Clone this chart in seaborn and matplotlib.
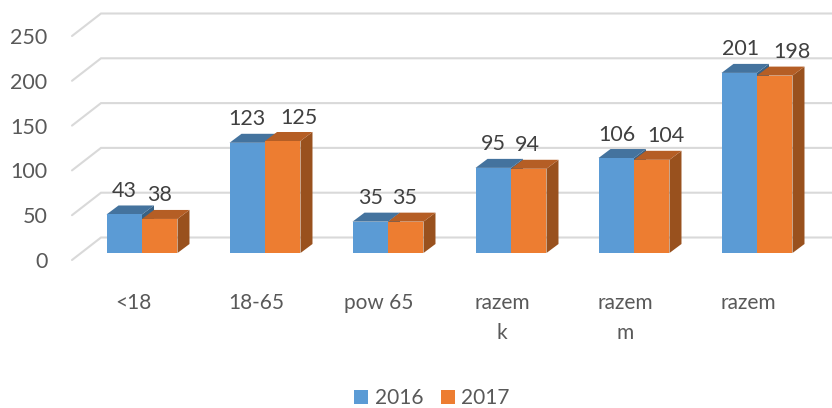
import pandas as pd
import matplotlib
matplotlib.use("Agg")
import matplotlib.pyplot as plt
from matplotlib.patches import Polygon
import seaborn as sns

categories = ["<18", "18-65", "pow 65", "razem\nk", "razem\nm", "razem"]
values_2016 = [43, 123, 35, 95, 106, 201]
values_2017 = [38, 125, 35, 94, 104, 198]
years = ["2016", "2017"]
y_ticks = [0, 50, 100, 150, 200, 250]

sns.set_style("white")
plt.rcParams["font.family"] = ["Lato", "DejaVu Sans"]

# pixel scale of the reference
W, H = 832, 408
PX_X = 123.0      # px per category
PX_Y = 0.896      # px per value unit
X0 = 142.0        # px of first category centre
Y0 = 253.0        # px of value 0

df = pd.DataFrame({
    "cat": categories * 2,
    "year": [years[0]] * 6 + [years[1]] * 6,
    "val": values_2016 + values_2017,
})

fig = plt.figure(figsize=(W / 100, H / 100), dpi=100)
ax = fig.add_axes([0, 0, 1, 1])
sns.barplot(data=df, x="cat", y="val", hue="year", order=categories, hue_order=years,
            palette=["#5B9BD5", "#ED7D31"], saturation=1, width=0.577, gap=0,
            legend=False, ax=ax, zorder=3, linewidth=0, edgecolor="none")
ax.set_xlim(-X0 / PX_X, (W - X0) / PX_X)
ax.set_ylim((Y0 - H) / PX_Y, Y0 / PX_Y)
ax.set_axis_off()


def dx(px):
    return px / PX_X


def dy(px):
    return px / PX_Y


def px_x(px):
    return (px - X0) / PX_X


# skewed floor and back wall grid
for t in y_ticks:
    ax.plot([px_x(72), px_x(101), px_x(W)], [t + dy(-7), t + dy(15.5), t + dy(15.5)],
            color="#D9D9D9", lw=1.5, zorder=1, solid_joinstyle="miter")
    ax.text(px_x(47.5), t + dy(-9), str(t), ha="right", va="center", fontsize=15.5, color="#595959")

# 3D faces from the bars seaborn drew
depth_x, depth_y = dx(12), dy(9)
face_cols = [("#44739E", "#386285"), ("#B55E25", "#99511E")]
for k, cont in enumerate(ax.containers):
    base_z = 2 + k * 2
    for b in cont:
        x0, x1, h = b.get_x(), b.get_x() + b.get_width(), b.get_height()
        b.set_zorder(base_z + 1)
        ax.add_patch(Polygon([(x1, 0), (x1, h), (x1 + depth_x, h + depth_y), (x1 + depth_x, depth_y)],
                             closed=True, fc=face_cols[k][1], ec="none", zorder=base_z))
        ax.add_patch(Polygon([(x0, h), (x1, h), (x1 + depth_x, h + depth_y), (x0 + depth_x, h + depth_y)],
                             closed=True, fc=face_cols[k][0], ec="none", zorder=base_z))

# data labels, some are pushed right in the reference
label_shift = [[0, 0, 0, 0, 1, 1], [0, 16, -1, -1, 14, 17]]
for k, cont in enumerate(ax.containers):
    for i, b in enumerate(cont):
        ax.text(b.get_x() + b.get_width() / 2 + dx(label_shift[k][i]), b.get_height() + dy(23.5),
                str(int(b.get_height())), ha="center", va="center", fontsize=15.5, color="#404040", zorder=8)

# category labels
for i, c in enumerate(categories):
    ax.text(i + dx(-9), dy(-40), c, ha="center", va="top", fontsize=15, color="#595959",
            linespacing=1.65)

handles = [cont[0] for cont in ax.containers]
ax.legend(handles, years, loc="center", bbox_to_anchor=(432 / W, 1 - 398 / H), ncol=2, frameon=False,
          fontsize=15, labelcolor="#595959", handlelength=0.67, handleheight=0.67,
          handletextpad=0.3, columnspacing=0.85, borderpad=0, borderaxespad=0)

fig.savefig("out.png", dpi=100)
